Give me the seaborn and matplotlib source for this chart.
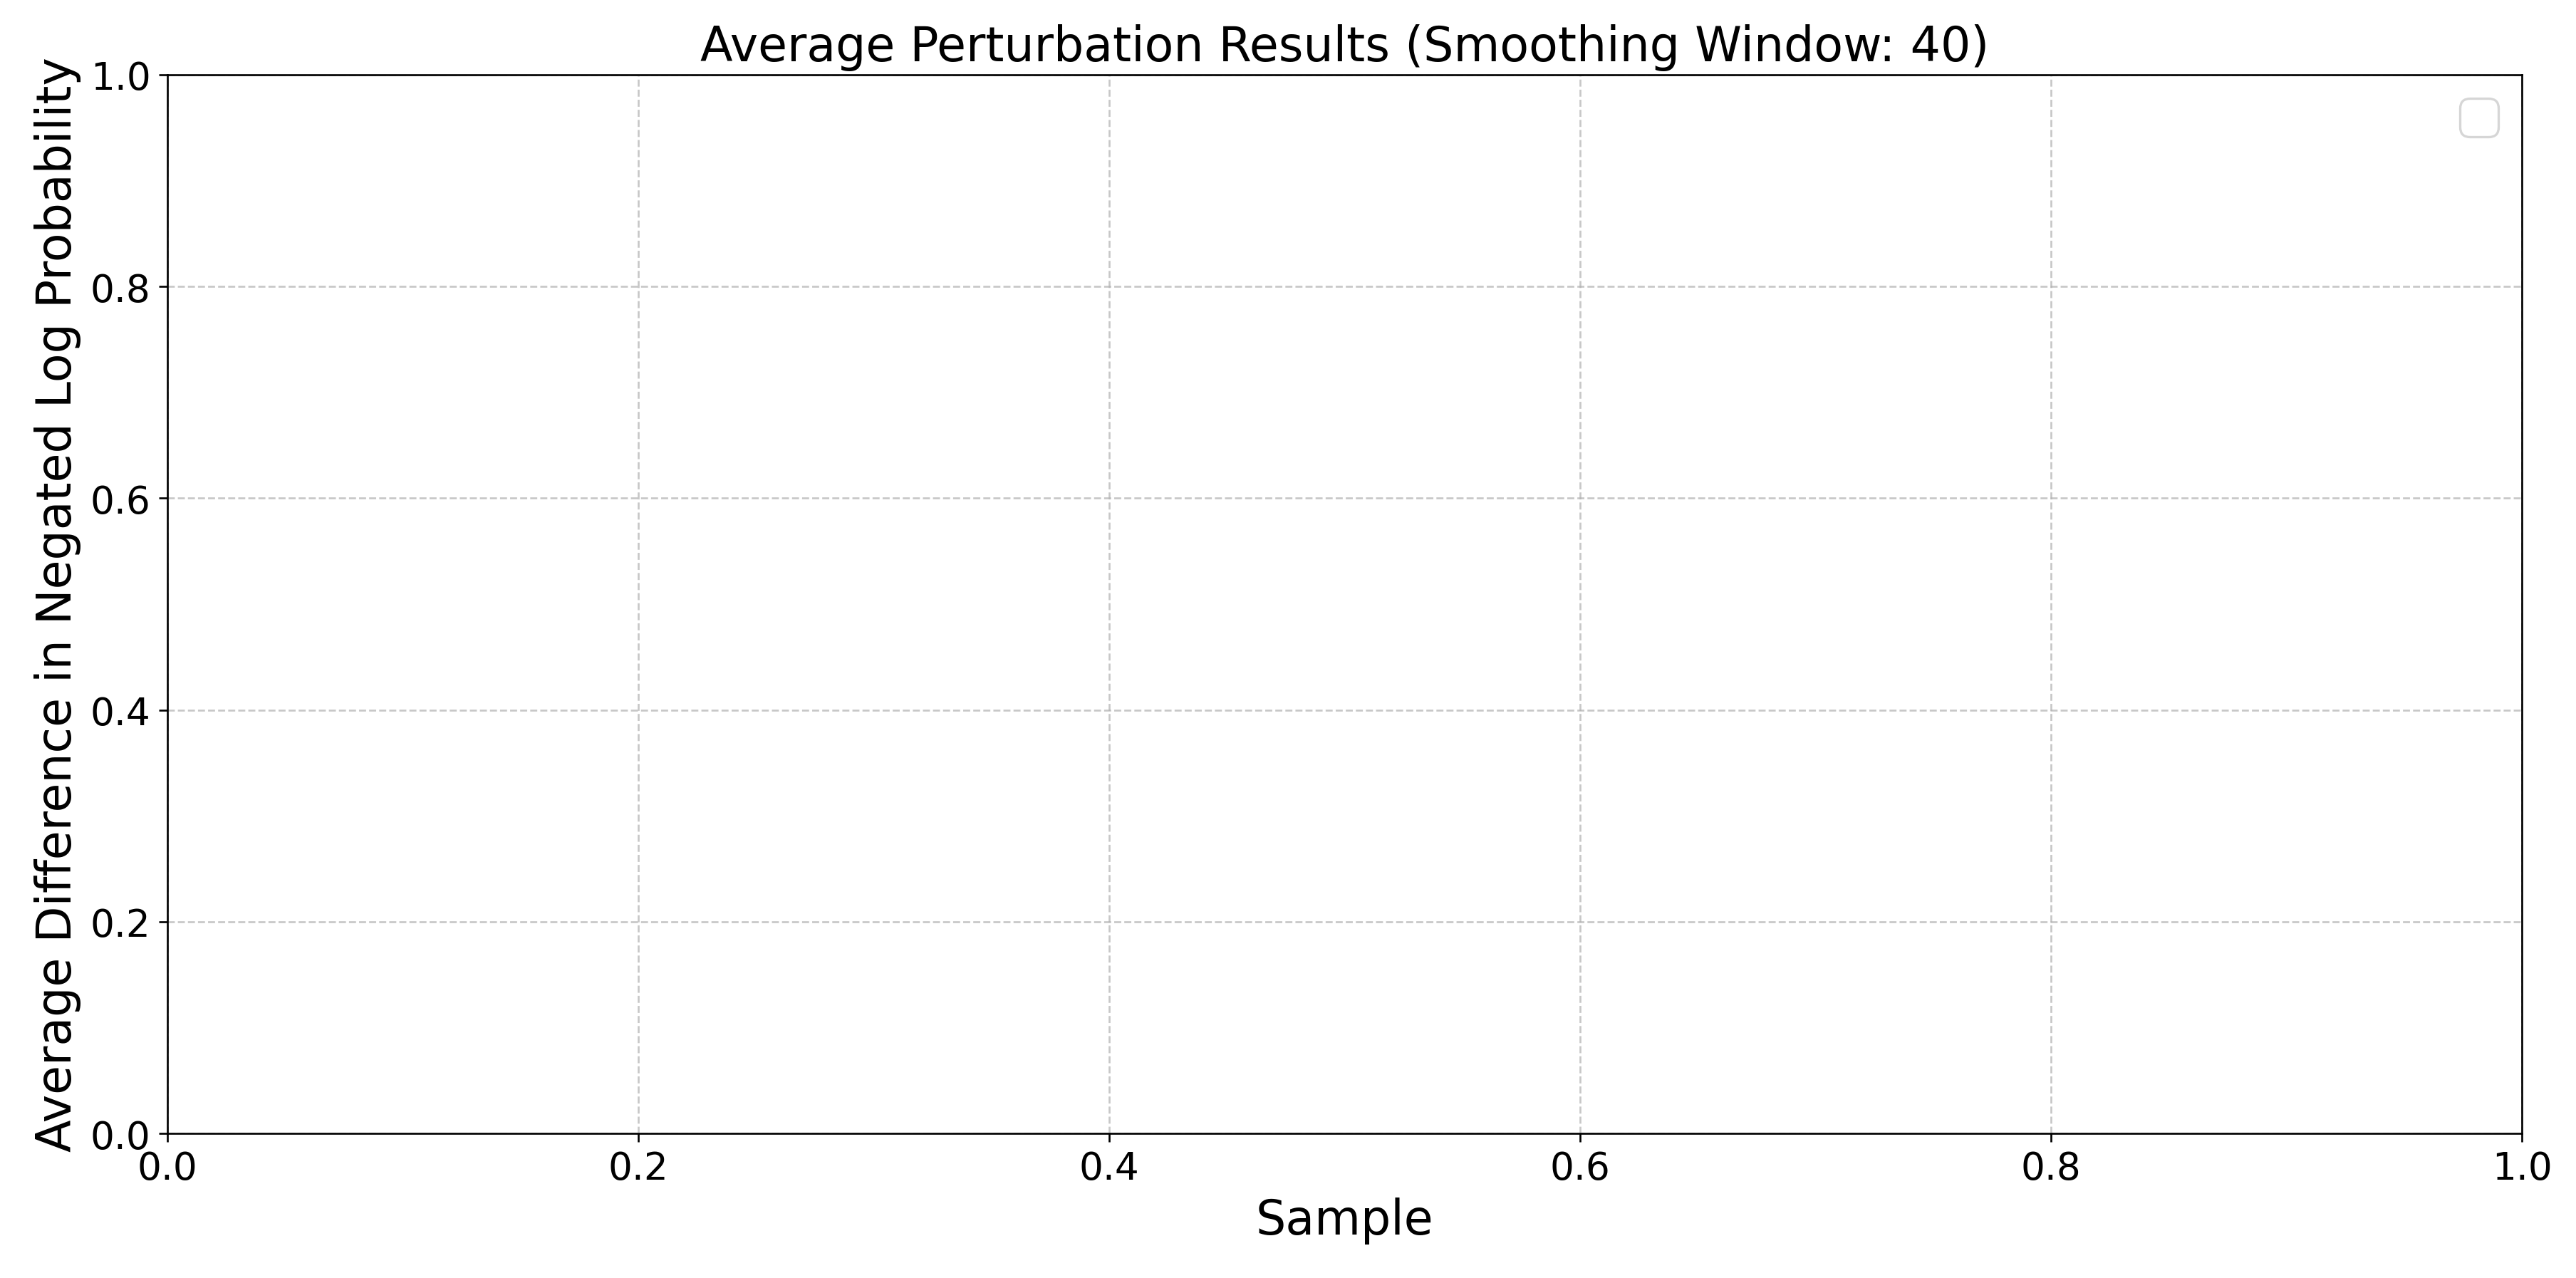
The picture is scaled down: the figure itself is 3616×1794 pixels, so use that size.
import numpy as np
import pandas as pd
import matplotlib
matplotlib.use("Agg")
import matplotlib.pyplot as plt
import seaborn as sns

# =========================
# DATA (the reference plot has no series drawn)
# =========================
SMOOTHING_WINDOW = 40
series_names = []
series_samples = []
series_values = []

plt.rcParams["font.family"] = ["DejaVu Sans"]

fig, ax = plt.subplots(figsize=(15.067, 7.479), dpi=240)

for name, xs, ys in zip(series_names, series_samples, series_values):
    df = pd.DataFrame({"Sample": xs, "Value": ys})
    sns.lineplot(data=df, x="Sample", y="Value", ax=ax, label=name)

ax.set_xlim(0, 1)
ax.set_ylim(0, 1)
ax.set_title(f"Average Perturbation Results (Smoothing Window: {SMOOTHING_WINDOW})", fontsize=20)
ax.set_xlabel("Sample", fontsize=20)
ax.set_ylabel("Average Difference in Negated Log Probability", fontsize=20)
ax.tick_params(labelsize=16)
ax.grid(True, linestyle="--", alpha=0.7)
ax.legend(fontsize=20)

plt.subplots_adjust(left=0.065, right=0.979, top=0.941, bottom=0.113)
plt.savefig("out.png", dpi=240)
plt.close()
